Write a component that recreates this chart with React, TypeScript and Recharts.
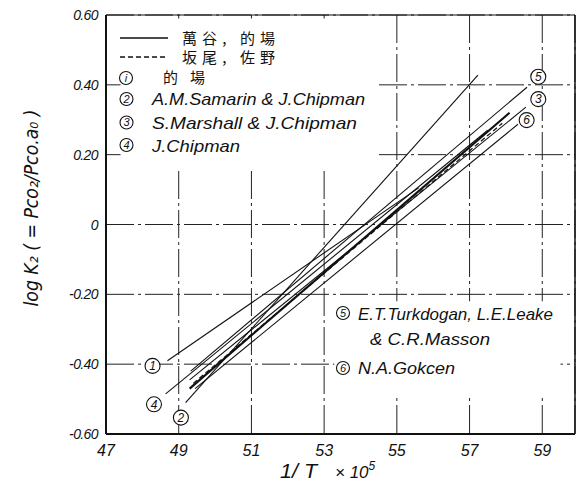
import React from 'react';
import { LineChart, Line, XAxis, YAxis, CartesianGrid, ReferenceLine, ReferenceDot, ReferenceArea } from 'recharts';

const xTicks = [47, 49, 51, 53, 55, 57, 59];
const yTicks = [-0.6, -0.4, -0.2, 0, 0.2, 0.4, 0.6];
const xDomain: [number, number] = [47, 59.9];
const yDomain: [number, number] = [-0.6, 0.6];

// ① 的場
const seriesMatoba = [{ x: 48.69, y: -0.39 }, { x: 55.6, y: 0.105 }];
// ② A.M.Samarin & J.Chipman
const seriesSamarin = [{ x: 49.19, y: -0.51 }, { x: 57.23, y: 0.428 }];
// ③ S.Marshall & J.Chipman
const seriesMarshall = [{ x: 49.3, y: -0.445 }, { x: 58.55, y: 0.336 }];
// ④ J.Chipman
const seriesChipman = [{ x: 48.64, y: -0.485 }, { x: 57.5, y: 0.27 }];
// ⑤ E.T.Turkdogan, L.E.Leake & C.R.Masson
const seriesTurkdogan = [{ x: 49.33, y: -0.42 }, { x: 58.58, y: 0.393 }];
// ⑥ N.A.Gokcen
const seriesGokcen = [{ x: 49.45, y: -0.47 }, { x: 58.33, y: 0.287 }];
// 萬谷, 的場 (solid)
const seriesManya = [{ x: 49.3, y: -0.47 }, { x: 58.1, y: 0.32 }];
// 坂尾, 佐野 (dashed)
const seriesSakao = [{ x: 49.4, y: -0.455 }, { x: 57.9, y: 0.29 }];

const markerLabels = ['1', '2', '3', '4', '5', '6'];
const markerX = [48.28, 49.06, 58.89, 48.32, 58.89, 58.57];
const markerY = [-0.405, -0.553, 0.359, -0.515, 0.423, 0.299];

const LATIN = '"Liberation Sans", Arial, sans-serif';
const CJK = '"Noto Sans CJK JP", sans-serif';
const INK = '#111';

const fmtY = (v: number) => (v === 0 ? '0' : v.toFixed(2));

const Circled = ({ cx, cy, label, r = 7.5, fs = 11 }: any) => (
  <g>
    <circle cx={cx} cy={cy} r={r} fill="#fff" stroke={INK} strokeWidth={1.1} />
    <text x={cx} y={cy + fs * 0.36} textAnchor="middle" fontSize={fs} fontStyle="italic" fontFamily={LATIN} fill={INK}>
      {label}
    </text>
  </g>
);

const XTick = ({ x, y, payload }: any) => (
  <text x={x} y={y + 14} textAnchor="middle" fontSize={16} fontStyle="italic" fontFamily={LATIN} fill={INK}>
    {String(payload.value)}
  </text>
);

const YTick = ({ x, y, payload }: any) => (
  <text x={x} y={y + 5} textAnchor="end" fontSize={14} fontStyle="italic" fontFamily={LATIN} fill={INK} letterSpacing={-0.6}>
    {fmtY(payload.value)}
  </text>
);

export default function App() {
  const lineProps = {
    type: 'linear' as const,
    dataKey: 'y',
    stroke: INK,
    dot: false,
    activeDot: false,
    isAnimationActive: false,
  };
  return (
    <div style={{ position: 'absolute', left: 0, top: 0, width: 576, height: 484, background: '#fff' }}>
      <LineChart width={576} height={484} margin={{ top: 15, right: 1, bottom: 0, left: 0 }}>
        <CartesianGrid stroke="#222" strokeOpacity={1} strokeDasharray="28 4 3 4" strokeWidth={1} />
        <XAxis
          dataKey="x"
          type="number"
          domain={xDomain}
          ticks={xTicks}
          allowDataOverflow
          height={50}
          stroke={INK}
          axisLine={{ stroke: INK, strokeWidth: 2 }}
          tickLine={false}
          tick={<XTick />}
        />
        <YAxis
          type="number"
          domain={yDomain}
          ticks={yTicks}
          allowDataOverflow
          width={106}
          stroke={INK}
          axisLine={{ stroke: INK, strokeWidth: 2 }}
          tickLine={false}
          tick={<YTick />}
        />
        <ReferenceArea x1={47.4} x2={54.4} y1={0.16} y2={0.59} fill="#fff" fillOpacity={1} stroke="none" ifOverflow="visible" />
        <ReferenceArea x1={53.28} x2={59.5} y1={-0.49} y2={-0.22} fill="#fff" fillOpacity={1} stroke="none" ifOverflow="visible" />
        <ReferenceLine y={0.6} stroke={INK} strokeWidth={1.2} />
        <ReferenceLine x={59.9} stroke={INK} strokeWidth={1.5} />
        <Line {...lineProps} data={seriesMatoba} strokeWidth={1.1} />
        <Line {...lineProps} data={seriesSamarin} strokeWidth={1.1} />
        <Line {...lineProps} data={seriesMarshall} strokeWidth={1.1} />
        <Line {...lineProps} data={seriesChipman} strokeWidth={1.1} />
        <Line {...lineProps} data={seriesTurkdogan} strokeWidth={1.1} />
        <Line {...lineProps} data={seriesGokcen} strokeWidth={1.1} />
        <Line {...lineProps} data={seriesManya} strokeWidth={2.2} />
        <Line {...lineProps} data={seriesSakao} strokeWidth={1.2} strokeDasharray="5 3" />
        {markerLabels.map((lab, i) => (
          <ReferenceDot
            key={lab}
            x={markerX[i]}
            y={markerY[i]}
            r={7.5}
            ifOverflow="visible"
            shape={(p: any) => <Circled cx={p.cx} cy={p.cy} label={lab} fs={12} />}
          />
        ))}
      </LineChart>
      <svg width={576} height={484} style={{ position: 'absolute', left: 0, top: 0, pointerEvents: 'none' }}>
        {/* legend */}
        <line x1={120} y1={38} x2={168} y2={38} stroke={INK} strokeWidth={1.3} />
        <text x={182} y={44} fontSize={15} fontFamily={CJK} fill={INK} textLength={93} lengthAdjust="spacing">萬谷, 的場</text>
        <line x1={120} y1={57} x2={168} y2={57} stroke={INK} strokeWidth={1.3} strokeDasharray="5 3" />
        <text x={182} y={63} fontSize={15} fontFamily={CJK} fill={INK} textLength={93} lengthAdjust="spacing">坂尾, 佐野</text>
        <Circled cx={126} cy={78} label="i" r={6.5} fs={11} />
        <text x={163} y={83} fontSize={15} fontFamily={CJK} fill={INK} textLength={42} lengthAdjust="spacing">的場</text>
        <Circled cx={126.5} cy={99} label="2" r={6.5} fs={11} />
        <text x={152} y={105} fontSize={17} fontStyle="italic" fontFamily={LATIN} fill={INK} textLength={213} lengthAdjust="spacingAndGlyphs">A.M.Samarin &amp; J.Chipman</text>
        <Circled cx={126.5} cy={122.5} label="3" r={6.5} fs={11} />
        <text x={152} y={129} fontSize={17} fontStyle="italic" fontFamily={LATIN} fill={INK} textLength={205} lengthAdjust="spacingAndGlyphs">S.Marshall &amp; J.Chipman</text>
        <Circled cx={126.5} cy={145} label="4" r={6.5} fs={11} />
        <text x={152} y={152} fontSize={17} fontStyle="italic" fontFamily={LATIN} fill={INK} textLength={88} lengthAdjust="spacingAndGlyphs">J.Chipman</text>
        {/* lower right notes */}
        <Circled cx={343} cy={313} label="5" r={6.5} fs={11} />
        <text x={358} y={320} fontSize={17} fontStyle="italic" fontFamily={LATIN} fill={INK} textLength={195} lengthAdjust="spacingAndGlyphs">E.T.Turkdogan, L.E.Leake</text>
        <text x={370} y={345} fontSize={17} fontStyle="italic" fontFamily={LATIN} fill={INK} textLength={120} lengthAdjust="spacingAndGlyphs">&amp; C.R.Masson</text>
        <Circled cx={343} cy={368} label="6" r={6.5} fs={11} />
        <text x={358} y={374} fontSize={17} fontStyle="italic" fontFamily={LATIN} fill={INK} textLength={97} lengthAdjust="spacingAndGlyphs">N.A.Gokcen</text>
        {/* axis titles */}
        <text x={280} y={478} fontSize={20} fontStyle="italic" fontFamily={LATIN} fill={INK} textLength={37} lengthAdjust="spacingAndGlyphs">1/ T</text>
        <text x={335} y={478} fontSize={17} fontStyle="italic" fontFamily={LATIN} fill={INK}>
          × 10<tspan fontSize={12} dy={-8}>5</tspan>
        </text>
        <text
          x={38}
          y={208}
          transform="rotate(-90 38 208)"
          textAnchor="middle"
          fontSize={20}
          fontStyle="italic"
          fontFamily={'"DejaVu Sans", sans-serif'}
          fill={INK}
          textLength={197}
          lengthAdjust="spacingAndGlyphs"
        >
          log K₂ ( = Pco₂/Pco.a₀ )
        </text>
      </svg>
    </div>
  );
}
